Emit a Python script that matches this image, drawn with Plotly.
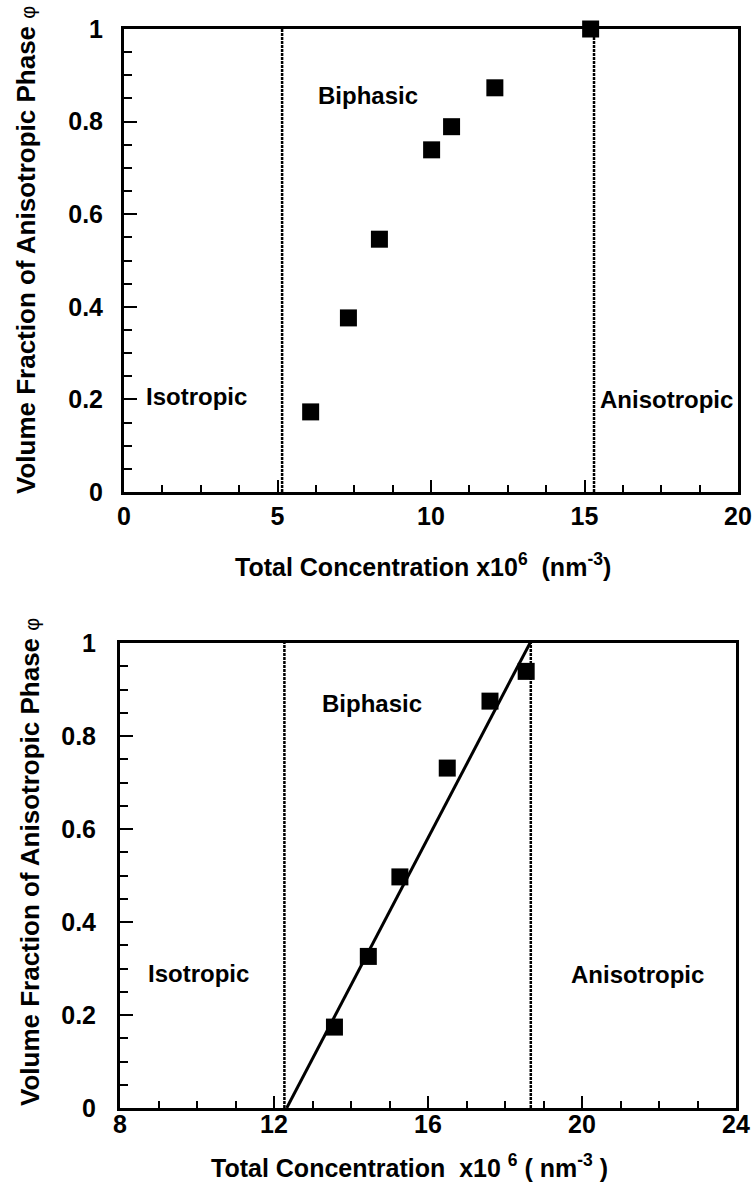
import plotly.graph_objects as go

# ---------------- data ----------------
# top panel
top_conc = [6.08, 7.31, 8.32, 10.02, 10.67, 12.08, 15.2]
top_phi = [0.173, 0.376, 0.546, 0.739, 0.789, 0.873, 1.0]
top_bounds = [5.15, 15.31]
top_xticks = [0, 5, 10, 15, 20]

# bottom panel
bot_conc = [13.57, 14.45, 15.27, 16.5, 17.61, 18.55]
bot_phi = [0.174, 0.326, 0.497, 0.731, 0.875, 0.939]
bot_bounds = [12.27, 18.67]
fit_x = [12.33, 18.65]
fit_y = [0.0, 1.0]
bot_xticks = [8, 12, 16, 20, 24]

y_ticks = [0, 0.2, 0.4, 0.6, 0.8, 1]
y_ticktext = ["0", "0.2", "0.4", "0.6", "0.8", "1"]

# ---------------- figure ----------------
W, H = 754, 1188
FONT = "Liberation Sans, Arial, Helvetica, sans-serif"

def px(x):
    return x / W

def py(y):
    return 1 - y / H

fig = go.Figure()

marker = dict(symbol="square", size=17, color="black", line=dict(width=0))
dash_line = dict(color="black", width=2.5, dash="3px,1px")

# top panel traces
for b in top_bounds:
    fig.add_trace(go.Scatter(x=[b, b], y=[0, 1], mode="lines", line=dash_line,
                             xaxis="x", yaxis="y", hoverinfo="skip", showlegend=False))
fig.add_trace(go.Scatter(x=top_conc, y=top_phi, mode="markers", marker=marker,
                         xaxis="x", yaxis="y", cliponaxis=False, showlegend=False))

# bottom panel traces
for b in bot_bounds:
    fig.add_trace(go.Scatter(x=[b, b], y=[0, 1], mode="lines", line=dash_line,
                             xaxis="x2", yaxis="y2", hoverinfo="skip", showlegend=False))
fig.add_trace(go.Scatter(x=fit_x, y=fit_y, mode="lines", line=dict(color="black", width=3),
                         xaxis="x2", yaxis="y2", showlegend=False))
fig.add_trace(go.Scatter(x=bot_conc, y=bot_phi, mode="markers", marker=marker,
                         xaxis="x2", yaxis="y2", cliponaxis=False, showlegend=False))

tickfont = dict(family=FONT, size=25, color="black", weight="bold")

def xaxis(domain, anchor, rng, ticks, major_len, minor_dtick, standoff):
    return dict(domain=domain, anchor=anchor, range=rng, tickvals=ticks,
                ticks="inside", ticklen=major_len, tickwidth=2, tickcolor="black",
                minor=dict(ticks="inside", dtick=minor_dtick, tick0=rng[0], ticklen=7,
                           tickwidth=2, tickcolor="black", showgrid=False),
                showline=True, linewidth=3, linecolor="black", mirror=True,
                showgrid=False, zeroline=False, tickfont=tickfont,
                ticklabelstandoff=standoff, automargin=False, fixedrange=True)

def yaxis(domain, anchor, standoff):
    return dict(domain=domain, anchor=anchor, range=[0, 1], tickvals=y_ticks,
                ticktext=y_ticktext,
                ticks="inside", ticklen=13, tickwidth=2, tickcolor="black",
                minor=dict(ticks="inside", dtick=0.05, tick0=0, ticklen=8,
                           tickwidth=2, tickcolor="black", showgrid=False),
                showline=True, linewidth=3, linecolor="black", mirror=True,
                showgrid=False, zeroline=False, tickfont=tickfont,
                ticklabelstandoff=standoff, automargin=False, fixedrange=True)

fig.update_layout(
    width=W, height=H,
    margin=dict(l=0, r=0, t=0, b=0),
    paper_bgcolor="white", plot_bgcolor="white",
    showlegend=False,
    xaxis=xaxis([px(124), px(738)], "y", [0, 20], top_xticks, 12, 1.25, 0),
    yaxis=yaxis([py(492), py(29)], "x", 13),
    xaxis2=xaxis([px(120), px(736)], "y2", [8, 24], bot_xticks, 12, 1, -8),
    yaxis2=yaxis([py(1108), py(643)], "x2", 16),
)

lab_font = dict(family=FONT, size=24, color="black", weight="bold")
title_font = dict(family=FONT, size=25, color="black", weight="bold")
phi = "<span style='font-weight:normal;font-size:20px'>φ</span>"
annos = [
    # top panel region labels
    dict(x=7.95, y=0.857, xref="x", yref="y", text="Biphasic", font=lab_font),
    dict(x=0.65, y=0.207, xref="x", yref="y", text="Isotropic", xanchor="left", font=lab_font),
    dict(x=15.45, y=0.199, xref="x", yref="y", text="Anisotropic", xanchor="left", font=lab_font),
    # bottom panel region labels
    dict(x=14.55, y=0.870, xref="x2", yref="y2", text="Biphasic", font=lab_font),
    dict(x=10.03, y=0.290, xref="x2", yref="y2", text="Isotropic", font=lab_font),
    dict(x=21.44, y=0.288, xref="x2", yref="y2", text="Anisotropic", font=lab_font),
    # axis titles
    dict(x=px(423), y=py(565), xref="paper", yref="paper", font=title_font,
         text="Total Concentration x10<sup>6</sup>  (nm<sup>-3</sup>)"),
    dict(x=px(409), y=py(1166), xref="paper", yref="paper", font=title_font,
         text="Total Concentration  x10 <sup>6</sup> ( nm<sup>-3</sup> )"),
    dict(x=px(26), y=py(250), xref="paper", yref="paper", textangle=-90, font=dict(title_font, size=26),
         text="Volume Fraction of Anisotropic Phase " + phi),
    dict(x=px(30), y=py(862), xref="paper", yref="paper", textangle=-90, font=dict(title_font, size=26),
         text="Volume Fraction of Anisotropic Phase " + phi),
]
for a in annos:
    a.setdefault("xanchor", "center")
    a.update(yanchor="middle", showarrow=False)
    fig.add_annotation(**a)

fig.write_html("out.html")
